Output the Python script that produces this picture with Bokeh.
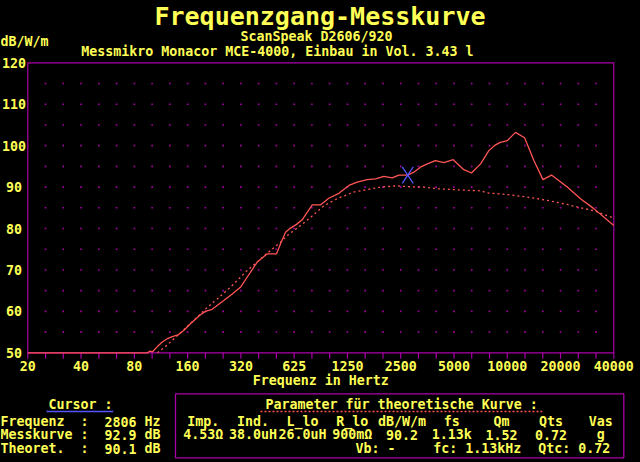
import math
from bokeh.plotting import figure
from bokeh.models import Range1d, GlobalInlineStyleSheet
from bokeh.core.properties import value
from bokeh.embed import file_html
from bokeh.resources import INLINE

# ---------------- data ----------------
meas_freq = [20, 95, 98, 101, 108, 115, 124, 131, 141, 152, 166, 189, 202, 220, 256, 286, 318, 363,
             396, 451, 509, 536, 572, 610, 660, 710, 810, 900, 1004, 1145, 1305, 1453, 1655, 1846,
             2055, 2290, 2500, 2806, 3035, 3310, 3620, 4020, 4490, 5070, 5820, 6430, 7240, 8060,
             8790, 9360, 10240, 11400, 12830, 14480, 16290, 18200, 20000, 22360, 26560, 31600, 40960]
meas_db = [50.0, 50.0, 50.4, 50.2, 51.5, 52.6, 53.5, 53.9, 54.3, 55.4, 57.0, 59.2, 60.0, 60.5, 62.6,
           64.2, 65.8, 69.5, 71.9, 73.9, 73.9, 76.3, 79.1, 80.1, 81.0, 82.1, 85.7, 85.7, 87.3, 88.5,
           90.4, 91.2, 91.8, 92.0, 92.6, 92.2, 92.9, 92.9, 93.6, 94.8, 95.6, 96.4, 95.9, 96.6, 94.2,
           93.4, 95.6, 98.8, 100.2, 100.8, 101.2, 103.2, 101.9, 96.4, 91.8, 92.9, 91.6, 90.0, 87.2,
           84.8, 80.7]

theo_freq = [108, 115, 123, 137, 150, 165, 180, 207, 235, 279, 348, 470, 536, 585, 695, 793,
             943, 1120, 1390, 1655, 1970, 2440, 2806, 3450, 4120, 5570, 7240, 7890, 10240, 13290,
             17220, 22360, 26560, 31600, 40960]
theo_db = [50.0, 50.9, 51.9, 53.8, 55.3, 57.0, 58.5, 61.0, 63.0, 65.8, 69.9, 74.7, 76.7, 78.3,
           80.7, 82.7, 85.5, 87.2, 88.8, 89.4, 90.0, 90.3, 90.1, 90.0, 89.6, 89.3, 89.1, 88.6, 88.2,
           87.6, 86.8, 85.8, 85.0, 84.3, 82.5]

cursor_freq = 2806
cursor_meas = 92.9
cursor_theo = 90.1
cursor_names = ["Frequenz", "Messkurve", "Theoret."]
cursor_values = [str(cursor_freq), f"{cursor_meas:.1f}", f"{cursor_theo:.1f}"]
cursor_units = ["Hz", "dB", "dB"]

x_ticks = [20, 40, 80, 160, 320, 640, 1280, 2560, 5120, 10240, 20480, 40960]
x_tick_labels = ["20", "40", "80", "160", "320", "625", "1250", "2500", "5000", "10000", "20000", "40000"]
y_ticks = [50, 60, 70, 80, 90, 100, 110, 120]
grid_db = [55, 60, 65, 70, 75, 80, 85, 90, 95, 100, 105, 110, 115]

param_names = ["Imp.", "Ind.", "L_lo", "R_lo", "dB/W/m", "fs", "Qm", "Qts", "Vas"]
param_values = ["4.53Ω", "38.0uH", "26.0uH", "900mΩ", "90.2", "1.13k", "1.52", "0.72", "g"]
extra_info = ["Vb: -", "fc: 1.13kHz", "Qtc: 0.72"]

# ---------------- style / layout ----------------
MAG = "#AA00AA"
YEL = "#FFFF55"
RED = "#FF5555"
BLUE = "#5555FF"
FONT = "DejaVu Sans Mono"
SMALL = "13.3px"

W, H = 640, 462
L, R, T, B = 27.3, 613.3, 62.3, 352.3          # plot box in page pixels
X0, X1, Y0, Y1 = 20, 40960, 50, 120             # axis ranges
PXO = (R - L) / math.log2(X1 / X0)              # pixels per octave
PXD = (B - T) / (Y1 - Y0)                       # pixels per dB


def fx(px):  # page pixel -> x data value
    return X0 * 2 ** ((px - L) / PXO)


def fy(py):  # page pixel -> y data value
    return Y0 + (B - py) / PXD


p = figure(width=W, height=H, x_axis_type="log",
           x_range=Range1d(fx(0), fx(W)), y_range=Range1d(fy(H), fy(0)),
           output_backend="svg", toolbar_location=None,
           min_border_left=0, min_border_right=0, min_border_top=0, min_border_bottom=0,
           background_fill_color="black", border_fill_color="black", outline_line_color=None)
p.title.visible = False
p.grid.visible = False
p.axis.visible = False
p.stylesheets = [GlobalInlineStyleSheet(css="html,body{margin:0;padding:0;background:#000;overflow:hidden}")]

# dotted grid
gx, gy = [], []
for k in range(1, 33):
    for d in grid_db:
        gx.append(X0 * 2 ** (k / 3))
        gy.append(d)
p.scatter(gx, gy, marker="square", size=1.6, fill_color=MAG, line_color=None)

# plot box
p.quad(left=[X0], right=[X1], bottom=[Y0], top=[Y1], fill_alpha=0, line_color=MAG, line_width=1.2)

# x ticks (every third of an octave, pointing down)
minor = [X0 * 2 ** (k / 3) for k in range(34)]
p.segment(x0=minor, y0=[Y0] * len(minor), x1=minor, y1=[Y0 - 6 / PXD] * len(minor),
          line_color=MAG, line_width=1.2)


def txt(x, y, texts, size=SMALL, align="left", color=YEL):
    p.text(x=x, y=y, text=texts, text_font=value(FONT), text_font_size=value(size),
           text_font_style="bold", text_color=color, text_align=align, text_baseline="middle")


# tick labels
txt(x_ticks, [fy(365.5)] * len(x_ticks), x_tick_labels, align="center")
txt([fx(13.5)] * len(y_ticks), y_ticks, [str(v) for v in y_ticks], align="center")
txt([fx(320.3)], [fy(380)], ["Frequenz in Hertz"], align="center")

# curves
p.line(theo_freq, theo_db, line_color=RED, line_width=1.3, line_dash="2 3")
p.line(meas_freq, meas_db, line_color=RED, line_width=1.3)

# cursor marker (X shape around the cursor point)
dx = 5.5 / PXO
dy = 8.3 / PXD
p.segment(x0=[cursor_freq * 2 ** -dx, cursor_freq * 2 ** -dx],
          y0=[cursor_meas + dy, cursor_meas - dy],
          x1=[cursor_freq * 2 ** dx, cursor_freq * 2 ** dx],
          y1=[cursor_meas - dy, cursor_meas + dy],
          line_color=BLUE, line_width=1.3)

# headings
txt([fx(319.5)], [fy(15.8)], ["Frequenzgang-Messkurve"], size="25px", align="center")
txt([fx(240)], [fy(36.2)], ["ScanSpeak D2606/920"])
txt([fx(80.7)], [fy(50.8)], ["Messmikro Monacor MCE-4000, Einbau in Vol. 3.43 l"])
txt([fx(0)], [fy(40.8)], ["dB/W/m"])


def hline(x0, x1, y, color, dash="solid"):
    p.segment(x0=[fx(x0)], y0=[fy(y)], x1=[fx(x1)], y1=[fy(y)],
              line_color=color, line_width=1.3, line_dash=dash)


# cursor block
rows_y = [fy(421), fy(434.3), fy(448.3)]
txt([fx(48)], [fy(404)], ["Cursor :"])
hline(46, 112.7, 411, BLUE)
txt([fx(0)] * 3, rows_y, cursor_names)
txt([fx(80)] * 3, rows_y, [":"] * 3)
txt([fx(104)] * 3, rows_y, cursor_values)
txt([fx(144)] * 3, rows_y, cursor_units)

# parameter box
p.quad(left=[fx(175)], right=[fx(623.3)], bottom=[fy(457.3)], top=[fy(393.3)],
       fill_alpha=0, line_color=MAG, line_width=1.3)
txt([fx(265)], [fy(404)], ["Parameter für theoretische Kurve :"])
hline(260, 541.7, 411, RED, "2 2")
cols = [fx(202.7 + 49.7 * i) for i in range(len(param_names))]
txt(cols, [fy(421)] * len(cols), param_names, align="center")
txt(cols, [fy(434.3)] * len(cols), param_values, align="center")
txt([fx(355), fx(432.7), fx(537.7)], [fy(448.3)] * 3, extra_info)

open("out.html", "w").write(file_html(p, INLINE))
